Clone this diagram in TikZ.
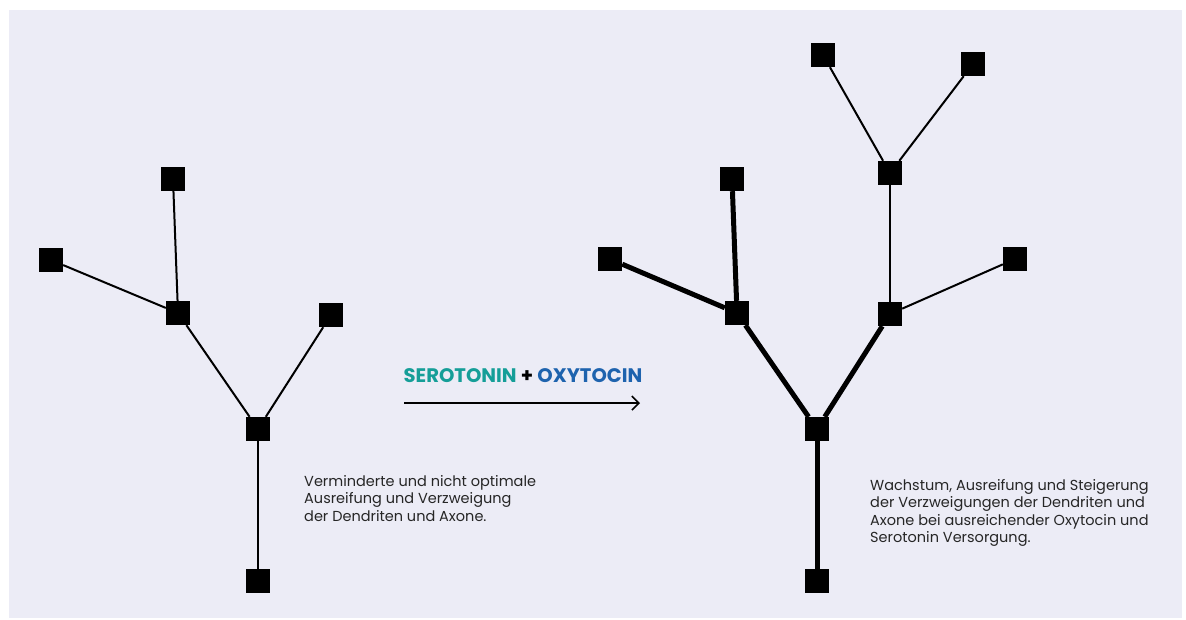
\documentclass[tikz,border=0pt]{standalone}
\usepackage{fontspec}
\setmainfont{Poppins}
\usetikzlibrary{arrows.meta}
\definecolor{bgpanel}{HTML}{ECECF6}
\definecolor{serocol}{HTML}{159E98}
\definecolor{oxycol}{HTML}{1E63AE}
\tikzset{
  sq/.style={fill=black, minimum size=24pt, inner sep=0pt},
  thinbranch/.style={line width=2pt},
  thickbranch/.style={line width=5pt},
  caption/.style={align=left, anchor=north west, inner sep=0pt, font=\fontsize{14.5pt}{17.2pt}\selectfont, text=black!85},
}
\begin{document}
\begin{tikzpicture}[x=1pt, y=-1pt]
\useasboundingbox (0,0) rectangle (1186,619);
\fill[bgpanel] (9,10) rectangle (1182,618);

% left tree: reduced branching
\node[sq] (a0) at (258,581) {};
\node[sq] (a1) at (258,429) {};
\node[sq] (a2) at (178,313) {};
\node[sq] (a3) at (173,179) {};
\node[sq] (a4) at (51,260) {};
\node[sq] (a5) at (331,315) {};
\draw[thinbranch] (a0) -- (a1);
\draw[thinbranch] (a1) -- (a2);
\draw[thinbranch] (a1) -- (a5);
\draw[thinbranch] (a2) -- (a3);
\draw[thinbranch] (a2) -- (a4);

% right tree: grown branching
\node[sq] (b0) at (817,581) {};
\node[sq] (b1) at (817,429) {};
\node[sq] (b2) at (737,313) {};
\node[sq] (b3) at (732,179) {};
\node[sq] (b4) at (610,259) {};
\node[sq] (b5) at (890,314) {};
\node[sq] (b6) at (1015,259) {};
\node[sq] (b7) at (890,173) {};
\node[sq] (b8) at (823,55) {};
\node[sq] (b9) at (973,64) {};
\draw[thickbranch] (b0) -- (b1);
\draw[thickbranch] (b1) -- (b2);
\draw[thickbranch] (b1) -- (b5);
\draw[thickbranch] (b2) -- (b3);
\draw[thickbranch] (b2) -- (b4);
\draw[thinbranch] (b5) -- (b6);
\draw[thinbranch] (b5) -- (b7);
\draw[thinbranch] (b7) -- (b8);
\draw[thinbranch] (b7) -- (b9);

% transition arrow
\coordinate (arrS) at (404,403);
\coordinate (arrE) at (640,403);
\draw[line width=1.6pt, -{Straight Barb[length=7pt, width=14pt, line width=1.6pt]}] (arrS) -- (arrE);
\node[font=\bfseries\fontsize{19.6pt}{22pt}\selectfont, anchor=base] (lbl) at (523,382)
  {\textcolor{serocol}{SEROTONIN} + \textcolor{oxycol}{OXYTOCIN}};

% captions
\node[caption] (capL) at (304,475.5) {Verminderte und nicht optimale\\Ausreifung und Verzweigung\\der Dendriten und Axone.};
\node[caption] (capR) at (870,479.5) {Wachstum, Ausreifung und Steigerung\\der Verzweigungen der Dendriten und\\Axone bei ausreichender Oxytocin und\\Serotonin Versorgung.};
\end{tikzpicture}
\end{document}
